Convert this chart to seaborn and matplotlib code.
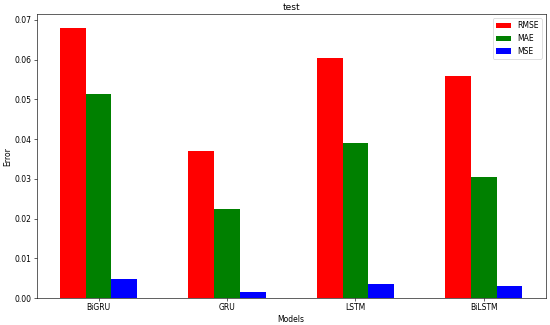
import matplotlib
matplotlib.use("Agg")
import matplotlib.pyplot as plt
import seaborn as sns
import pandas as pd

models = ["BiGRU", "GRU", "LSTM", "BiLSTM"]
rmse = [0.0680, 0.0371, 0.0605, 0.0558]
mae = [0.0513, 0.0224, 0.0389, 0.0304]
mse = [0.0047, 0.0014, 0.0036, 0.0030]
metrics = ["RMSE", "MAE", "MSE"]
colors = ["red", "green", "blue"]

df = pd.DataFrame({
    "Models": models * 3,
    "Error": rmse + mae + mse,
    "Metric": [m for m in metrics for _ in models],
})

DPI = 55
fig, ax = plt.subplots(figsize=(550 / DPI, 325 / DPI), dpi=DPI)
sns.barplot(data=df, x="Models", y="Error", hue="Metric", hue_order=metrics,
            palette=colors, saturation=1, width=0.6, gap=0, ax=ax, linewidth=0)
ax.set_xlim(-0.48, 3.48)
ax.set_title("test")
ax.set_xlabel("Models")
ax.set_ylabel("Error", labelpad=3)
ax.legend(loc="upper right")
fig.subplots_adjust(left=0.067, right=0.992, top=0.956, bottom=0.083)
fig.savefig("out.png", dpi=DPI)
